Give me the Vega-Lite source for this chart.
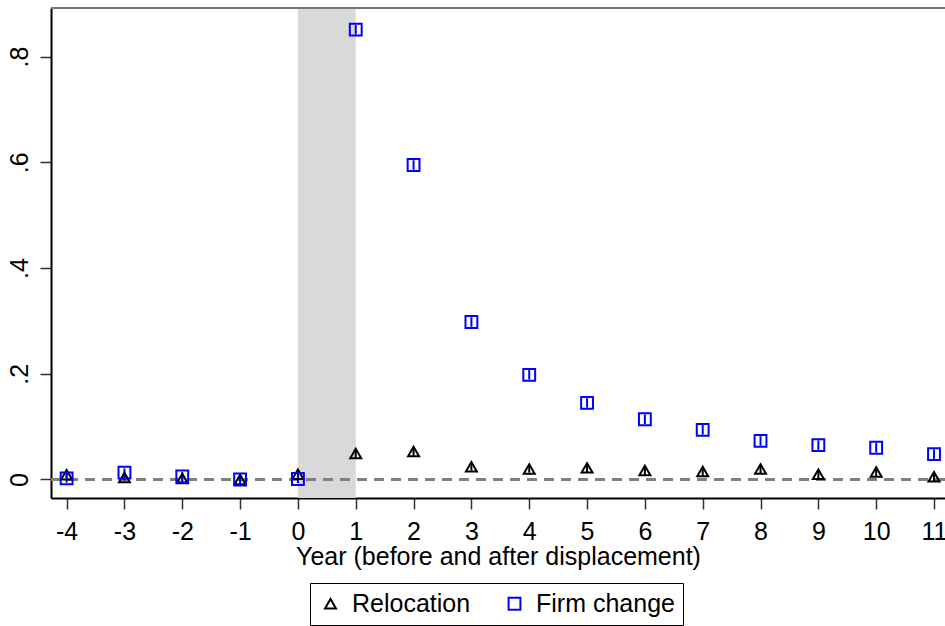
{
  "$schema": "https://vega.github.io/schema/vega-lite/v6.json",
  "autosize": {"type": "none"},
  "padding": {"left": 51, "top": 8, "right": 0, "bottom": 128},
  "width": 894,
  "height": 490,
  "background": "white",
  "config": {
    "view": {"stroke": null},
    "font": "Liberation Sans",
    "axis": {
      "labelFont": "Liberation Sans",
      "titleFont": "Liberation Sans",
      "labelFontSize": 25,
      "titleFontSize": 25,
      "titleFontWeight": "normal",
      "labelColor": "black",
      "titleColor": "black",
      "domainColor": "black",
      "domainWidth": 2,
      "tickColor": "#333",
      "tickWidth": 1.5,
      "tickSize": 11,
      "grid": false
    },
    "legend": {
      "labelFont": "Liberation Sans",
      "labelFontSize": 25,
      "labelColor": "black"
    }
  },
  "data": {
    "values": [
      {"year": -4, "series": "Relocation", "est": 0.009, "lo": 0.003, "hi": 0.015},
      {"year": -3, "series": "Relocation", "est": 0.004, "lo": -0.002, "hi": 0.010},
      {"year": -2, "series": "Relocation", "est": 0.002, "lo": -0.004, "hi": 0.008},
      {"year": -1, "series": "Relocation", "est": 0.000, "lo": -0.005, "hi": 0.005},
      {"year": 0, "series": "Relocation", "est": 0.010, "lo": 0.004, "hi": 0.016},
      {"year": 1, "series": "Relocation", "est": 0.049, "lo": 0.040, "hi": 0.058},
      {"year": 2, "series": "Relocation", "est": 0.053, "lo": 0.045, "hi": 0.061},
      {"year": 3, "series": "Relocation", "est": 0.024, "lo": 0.017, "hi": 0.031},
      {"year": 4, "series": "Relocation", "est": 0.020, "lo": 0.013, "hi": 0.027},
      {"year": 5, "series": "Relocation", "est": 0.022, "lo": 0.014, "hi": 0.030},
      {"year": 6, "series": "Relocation", "est": 0.017, "lo": 0.009, "hi": 0.025},
      {"year": 7, "series": "Relocation", "est": 0.015, "lo": 0.007, "hi": 0.023},
      {"year": 8, "series": "Relocation", "est": 0.020, "lo": 0.012, "hi": 0.028},
      {"year": 9, "series": "Relocation", "est": 0.010, "lo": 0.002, "hi": 0.018},
      {"year": 10, "series": "Relocation", "est": 0.014, "lo": 0.006, "hi": 0.022},
      {"year": 11, "series": "Relocation", "est": 0.005, "lo": -0.003, "hi": 0.013},
      {"year": -4, "series": "Firm change", "est": 0.002, "lo": -0.006, "hi": 0.010},
      {"year": -3, "series": "Firm change", "est": 0.013, "lo": 0.005, "hi": 0.021},
      {"year": -2, "series": "Firm change", "est": 0.006, "lo": -0.002, "hi": 0.014},
      {"year": -1, "series": "Firm change", "est": 0.000, "lo": -0.007, "hi": 0.007},
      {"year": 0, "series": "Firm change", "est": 0.001, "lo": -0.007, "hi": 0.009},
      {"year": 1, "series": "Firm change", "est": 0.851, "lo": 0.842, "hi": 0.860},
      {"year": 2, "series": "Firm change", "est": 0.595, "lo": 0.586, "hi": 0.604},
      {"year": 3, "series": "Firm change", "est": 0.298, "lo": 0.289, "hi": 0.307},
      {"year": 4, "series": "Firm change", "est": 0.198, "lo": 0.189, "hi": 0.207},
      {"year": 5, "series": "Firm change", "est": 0.145, "lo": 0.136, "hi": 0.154},
      {"year": 6, "series": "Firm change", "est": 0.114, "lo": 0.105, "hi": 0.123},
      {"year": 7, "series": "Firm change", "est": 0.094, "lo": 0.085, "hi": 0.103},
      {"year": 8, "series": "Firm change", "est": 0.073, "lo": 0.064, "hi": 0.082},
      {"year": 9, "series": "Firm change", "est": 0.065, "lo": 0.056, "hi": 0.074},
      {"year": 10, "series": "Firm change", "est": 0.060, "lo": 0.051, "hi": 0.069},
      {"year": 11, "series": "Firm change", "est": 0.048, "lo": 0.039, "hi": 0.057}
    ]
  },
  "layer": [
    {
      "data": {"values": [{"start": 0, "end": 1}]},
      "mark": {"type": "rect", "color": "#d9d9d9"},
      "encoding": {
        "x": {"field": "start", "type": "quantitative"},
        "x2": {"field": "end"}
      }
    },
    {
      "mark": {"type": "rule", "color": "#808080", "strokeWidth": 1.5, "strokeDash": [10, 7]},
      "encoding": {"y": {"datum": 0, "type": "quantitative"}}
    },
    {
      "mark": {"type": "rule", "color": "#777", "strokeWidth": 2},
      "encoding": {"y": {"datum": 0.892, "type": "quantitative"}}
    },
    {
      "mark": {"type": "rule", "strokeWidth": 2},
      "encoding": {
        "x": {"field": "year", "type": "quantitative"},
        "y": {"field": "lo", "type": "quantitative"},
        "y2": {"field": "hi"},
        "color": {"field": "series", "type": "nominal"}
      }
    },
    {
      "mark": {"type": "point", "filled": false, "strokeWidth": 2, "opacity": 1},
      "encoding": {
        "x": {
          "field": "year",
          "type": "quantitative",
          "scale": {"domain": [-4.27, 11.19], "nice": false, "zero": false},
          "axis": {
            "values": [-4, -3, -2, -1, 0, 1, 2, 3, 4, 5, 6, 7, 8, 9, 10, 11],
            "labelExpr": "'' + datum.value",
            "labelPadding": 10,
            "title": "Year (before and after displacement)",
            "titlePadding": 0
          }
        },
        "y": {
          "field": "est",
          "type": "quantitative",
          "scale": {"domain": [-0.035, 0.892], "nice": false, "zero": false},
          "axis": {
            "values": [0, 0.2, 0.4, 0.6, 0.8],
            "labelExpr": "datum.value == 0 ? '0' : replace(format(datum.value, '.1f'), '0.', '.')",
            "labelAngle": -90,
            "labelAlign": "center",
            "labelBaseline": "bottom",
            "labelPadding": 8,
            "title": null
          }
        },
        "color": {
          "field": "series",
          "type": "nominal",
          "scale": {"domain": ["Relocation", "Firm change"], "range": ["black", "#0000ff"]},
          "legend": {
            "title": null,
            "orient": "none",
            "legendX": 259,
            "legendY": 575,
            "direction": "horizontal",
            "strokeColor": "black",
            "padding": 8,
            "symbolSize": 100,
            "symbolStrokeWidth": 2,
            "labelOffset": 9,
            "columnPadding": 31
          }
        },
        "shape": {
          "field": "series",
          "type": "nominal",
          "scale": {"domain": ["Relocation", "Firm change"], "range": ["triangle-up", "square"]}
        },
        "size": {
          "field": "series",
          "type": "nominal",
          "scale": {"domain": ["Relocation", "Firm change"], "range": [120, 140]},
          "legend": null
        }
      }
    }
  ]
}
